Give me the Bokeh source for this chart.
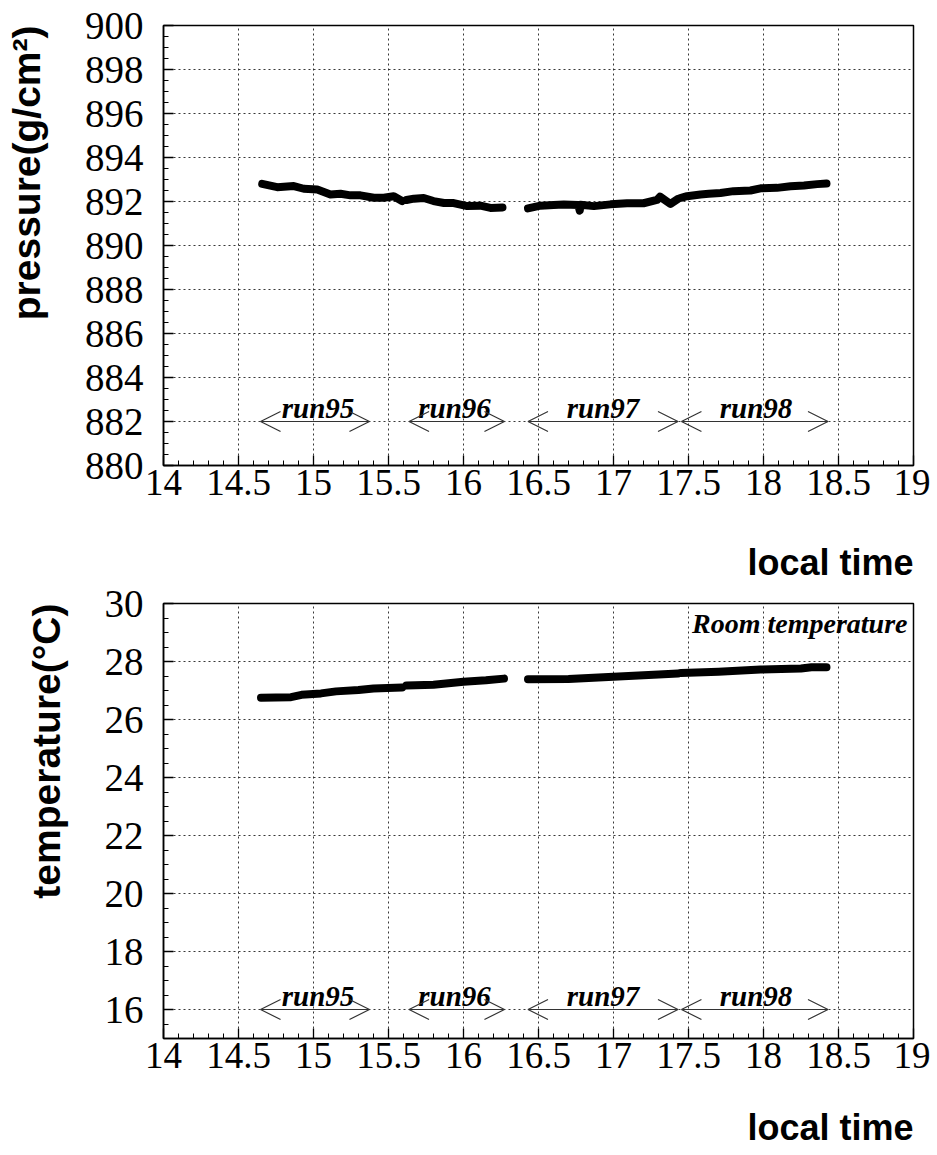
from bokeh.plotting import figure
from bokeh.layouts import column
from bokeh.models import (Range1d, SingleIntervalTicker, Arrow, OpenHead, Label, Title,
                          ColumnDataSource, NumeralTickFormatter)
from bokeh.embed import file_html
from bokeh.resources import INLINE
from bokeh.core.properties import value

# ---------------- data ----------------
# pressure (g/cm^2) vs local time, one segment per run
p_time_run95 = [14.658, 14.758, 14.869, 14.935, 15.025, 15.113, 15.18, 15.247, 15.313, 15.402, 15.469, 15.535, 15.59]
p_val_run95 = [892.80, 892.65, 892.70, 892.58, 892.55, 892.32, 892.35, 892.28, 892.28, 892.17, 892.17, 892.24, 892.02]
p_time_run96 = [15.62, 15.669, 15.735, 15.80, 15.87, 15.935, 16.025, 16.113, 16.18, 16.26]
p_val_run96 = [892.07, 892.13, 892.16, 892.02, 891.93, 891.93, 891.79, 891.81, 891.71, 891.73]
p_time_run97 = [16.43, 16.513, 16.60, 16.669, 16.765, 16.775, 16.78, 16.869, 16.98, 17.09, 17.20, 17.29, 17.31, 17.38, 17.43]
p_val_run97 = [891.69, 891.81, 891.84, 891.86, 891.84, 891.58, 891.85, 891.79, 891.87, 891.92, 891.92, 892.07, 892.22, 891.89, 892.12]
p_time_run98 = [17.45, 17.49, 17.58, 17.635, 17.713, 17.80, 17.913, 17.98, 18.09, 18.18, 18.27, 18.358, 18.42]
p_val_run98 = [892.17, 892.24, 892.32, 892.35, 892.39, 892.47, 892.50, 892.60, 892.62, 892.69, 892.73, 892.79, 892.82]

# room temperature (deg C) vs local time
t_time_run95 = [14.65, 14.85, 14.92, 15.05, 15.15, 15.30, 15.40, 15.59]
t_val_run95 = [26.75, 26.77, 26.85, 26.90, 26.97, 27.02, 27.07, 27.10]
t_time_run96 = [15.62, 15.80, 15.90, 16.00, 16.15, 16.27]
t_val_run96 = [27.17, 27.20, 27.25, 27.30, 27.35, 27.41]
t_time_run97 = [16.43, 16.70, 16.90, 17.10, 17.30, 17.43]
t_val_run97 = [27.39, 27.40, 27.45, 27.50, 27.55, 27.59]
t_time_run98 = [17.45, 17.70, 17.98, 18.25, 18.32, 18.42]
t_val_run98 = [27.60, 27.65, 27.72, 27.76, 27.80, 27.80]

# run annotations
run_names = ["run95", "run96", "run97", "run98"]
run_start = [14.647, 15.637, 16.43, 17.453]
run_end = [15.373, 16.273, 17.43, 18.43]
run_label_x = [15.03, 15.94, 16.93, 17.95]

x_range = (14, 19)
p_range = (880, 900)
t_range = (15, 30)

SERIF = "Liberation Serif"
SANS = "Liberation Sans"


def spacer(ax, gap):
    # blank axis label used only to reserve room between tick labels and the title
    ax.axis_label = " "
    ax.axis_label_text_font_size = "1px"
    ax.axis_label_standoff = gap


def make_panel(frame_h, top_border, yr, ytitle, segments, arrow_y, label_y, x_gap):
    p = figure(frame_width=750, frame_height=frame_h, output_backend="svg",
               toolbar_location=None,
               x_range=Range1d(*x_range), y_range=Range1d(*yr),
               min_border_left=163, min_border_right=17,
               min_border_top=top_border, min_border_bottom=2)
    p.background_fill_color = "white"
    p.border_fill_color = "white"
    p.outline_line_color = "black"
    p.outline_line_width = 1.5

    # axes
    p.xaxis.ticker = SingleIntervalTicker(interval=0.5, num_minor_ticks=5)
    p.yaxis.ticker = SingleIntervalTicker(interval=2, num_minor_ticks=4)
    p.xaxis.formatter = NumeralTickFormatter(format="0.[0]")
    p.yaxis.formatter = NumeralTickFormatter(format="0")
    for ax in (p.xaxis[0], p.yaxis[0]):
        ax.axis_line_color = "black"
        ax.axis_line_width = 1.5
        ax.major_tick_in = 10
        ax.major_tick_out = 0
        ax.minor_tick_in = 5
        ax.minor_tick_out = 0
        ax.major_tick_line_color = "black"
        ax.minor_tick_line_color = "black"
        ax.major_tick_line_width = 1.3
        ax.minor_tick_line_width = 1
        ax.major_label_text_font = SERIF
        ax.major_label_text_color = "black"
    p.xaxis.major_label_text_font_size = "37px"
    p.yaxis.major_label_text_font_size = "39px"
    p.xaxis.major_label_standoff = 4
    p.yaxis.major_label_standoff = 20
    spacer(p.xaxis[0], x_gap)
    spacer(p.yaxis[0], 30)

    # axis titles, aligned to the axis end (ROOT style)
    p.add_layout(Title(text="local time", align="right", text_font=SANS,
                       text_font_style="bold", text_font_size="36px",
                       text_color="black", standoff=2), "below")
    p.add_layout(Title(text=ytitle, align="right", text_font=SANS,
                       text_font_style="bold", text_font_size="39px",
                       text_color="black", standoff=0), "left")

    # grid
    for g in (p.xgrid, p.ygrid):
        g.grid_line_color = "#222222"
        g.grid_line_dash = "2 3"
        g.grid_line_width = 1
        g.grid_line_alpha = 0.9

    # data
    for xs, ys in segments:
        p.line(xs, ys, line_color="black", line_width=8,
               line_cap="round", line_join="round")

    # run arrows
    for s, e in zip(run_start, run_end):
        p.add_layout(Arrow(x_start=s, x_end=e, y_start=arrow_y, y_end=arrow_y,
                           line_color="#333333", line_width=1.2,
                           start=OpenHead(size=20, line_color="#333333", line_width=1.2),
                           end=OpenHead(size=20, line_color="#333333", line_width=1.2)))
    src = ColumnDataSource(dict(x=run_label_x, y=[label_y] * len(run_names), t=run_names))
    p.text(x="x", y="y", text="t", source=src, text_font=value(SERIF),
           text_font_style="bold italic", text_font_size="29px",
           text_align="center", text_baseline="alphabetic", text_color="black")
    return p


p1 = make_panel(440, 25, p_range, "pressure(g/cm\u00b2)",
                [(p_time_run95, p_val_run95), (p_time_run96, p_val_run96),
                 (p_time_run97, p_val_run97), (p_time_run98, p_val_run98)],
                882, 882.6, 37)

p2 = make_panel(435, 20, t_range, "temperature(\u00b0C)",
                [(t_time_run95, t_val_run95), (t_time_run96, t_val_run96),
                 (t_time_run97, t_val_run97), (t_time_run98, t_val_run98)],
                16, 16.45, 29)
p2.add_layout(Label(x=18.96, y=29.3, text="Room temperature", text_font=SERIF,
                    text_font_style="bold italic", text_font_size="28px",
                    text_align="right", text_baseline="middle", text_color="black"))

layout = column(p1, p2, spacing=0)
open("out.html", "w").write(file_html(layout, INLINE))
